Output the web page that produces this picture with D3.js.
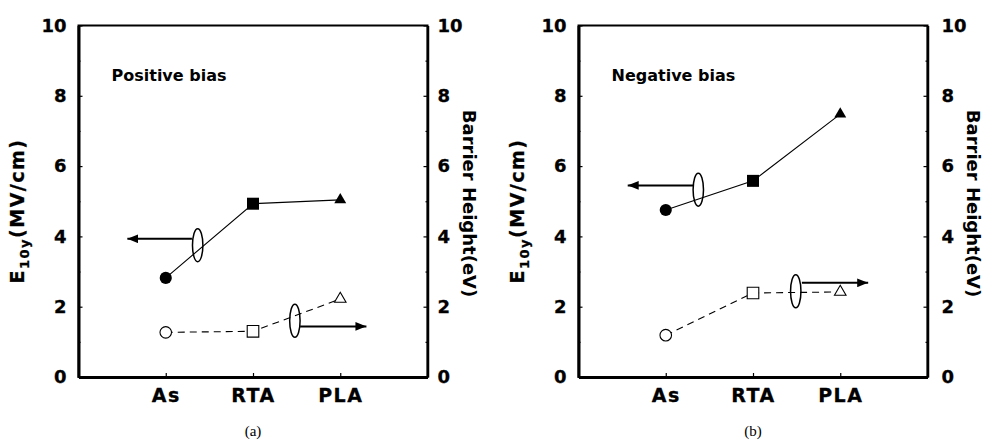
<!DOCTYPE html>
<html>
<head>
<meta charset="utf-8">
<script src="https://cdn.jsdelivr.net/npm/d3@7"></script>
<style>
  body { margin: 0; background: #fff; }
  text { font-family: 'DejaVu Sans', sans-serif; font-weight: bold; fill: #000;
         stroke: #000; stroke-width: 0.3px; }
  text.plain { stroke: none; }
</style>
</head>
<body>
<div id="chart"></div>
<script>
const categories = ['As', 'RTA', 'PLA']
const yTicks = [0, 2, 4, 6, 8, 10]
const minorTicks = [1, 3, 5, 7, 9]

// E10y (MV/cm) and barrier height (eV)
const posField = [2.82, 4.93, 5.04]
const posBarrier = [1.27, 1.30, 2.22]
const negField = [4.75, 5.58, 7.48]
const negBarrier = [1.19, 2.39, 2.42]

// guide ellipses [x index, value], arrows [from x, to x, value]
const posEllipses = [[1.366, 3.75], [2.48, 1.6]]
const posArrows = [[1.30, 0.56, 3.93], [2.54, 3.30, 1.44]]
const negEllipses = [[1.373, 5.33], [2.49, 2.44]]
const negArrows = [[1.316, 0.564, 5.45], [2.56, 3.32, 2.68]]

const panels = [
  {left: 78.5, title: 'Positive bias', tag: '(a)', field: posField, barrier: posBarrier,
   ellipses: posEllipses, arrows: posArrows, rGap: 35},
  {left: 578.5, title: 'Negative bias', tag: '(b)', field: negField, barrier: negBarrier,
   ellipses: negEllipses, arrows: negArrows, rGap: 39}
]

const W = 987, H = 442
const pw = 349, plotTop = 25.5, plotBottom = 377

const svg = d3.select('#chart').append('svg')
  .attr('width', W).attr('height', H)

svg.append('defs').append('marker')
  .attr('id', 'head')
  .attr('viewBox', '0 0 10 8')
  .attr('refX', 10).attr('refY', 4)
  .attr('markerWidth', 11).attr('markerHeight', 9)
  .attr('markerUnits', 'userSpaceOnUse')
  .attr('orient', 'auto')
  .append('path').attr('d', 'M0,0L10,4L0,8Z').attr('fill', '#000')

const shapes = [d3.symbolCircle, d3.symbolSquare, d3.symbolTriangle]
const sizes = [115, 144, 62]

panels.forEach(p => {
  const x = d3.scaleLinear().domain([0, 4]).range([p.left, p.left + pw])
  const y = d3.scaleLinear().domain([0, 10]).range([plotBottom, plotTop])
  const g = svg.append('g')

  g.append('rect')
    .attr('x', p.left).attr('y', plotTop)
    .attr('width', pw).attr('height', plotBottom - plotTop)
    .attr('fill', 'none').attr('stroke', '#000').attr('stroke-width', 2)

  // Axes
  const left = g.append('g')
    .attr('transform', `translate(${p.left},0)`)
    .call(d3.axisLeft(y).tickValues(yTicks).tickSizeInner(-4).tickSizeOuter(0).tickPadding(12))
  const right = g.append('g')
    .attr('transform', `translate(${p.left + pw},0)`)
    .call(d3.axisRight(y).tickValues(yTicks).tickSizeInner(-4).tickSizeOuter(0)
      .tickPadding(p.rGap - 25))
  g.append('g')
    .attr('transform', `translate(${p.left},0)`)
    .call(d3.axisLeft(y).tickValues(minorTicks).tickSize(-2).tickFormat(''))
    .select('.domain').remove()
  g.append('g')
    .attr('transform', `translate(${p.left + pw},0)`)
    .call(d3.axisRight(y).tickValues(minorTicks).tickSize(-2).tickFormat(''))
    .select('.domain').remove()
  const xa = g.append('g')
    .attr('transform', `translate(0,${plotBottom})`)
    .call(d3.axisBottom(x).tickValues([1, 2, 3]).tickFormat(i => categories[i - 1])
      .tickSizeInner(-4).tickSizeOuter(0).tickPadding(12))

  left.select('.domain').attr('stroke-width', 3)
  right.select('.domain').attr('stroke-width', 2.5)
  xa.select('.domain').attr('stroke-width', 3)
  g.selectAll('.tick line').attr('stroke-width', 1.2)
  left.selectAll('text').attr('font-size', 18).attr('font-family', null)
  right.selectAll('text').attr('font-size', 18).attr('font-family', null)
  xa.selectAll('text').attr('font-size', 19).attr('font-family', null)
    .attr('letter-spacing', '1.5px')

  // Lines
  const line = d3.line().x((d, i) => x(i + 1)).y(d => y(d))
  g.append('path').datum(p.field)
    .attr('d', line).attr('fill', 'none').attr('stroke', '#000').attr('stroke-width', 1.1)
  g.append('path').datum(p.barrier)
    .attr('d', line).attr('fill', 'none').attr('stroke', '#000').attr('stroke-width', 1.1)
    .attr('stroke-dasharray', '7,5')

  g.selectAll('.field').data(p.field).enter().append('path')
    .attr('transform', (d, i) => `translate(${x(i + 1)},${y(d)})`)
    .attr('d', (d, i) => d3.symbol(shapes[i], sizes[i])())
    .attr('fill', '#000')
  g.selectAll('.barrier').data(p.barrier).enter().append('path')
    .attr('transform', (d, i) => `translate(${x(i + 1)},${y(d)})`)
    .attr('d', (d, i) => d3.symbol(shapes[i], i == 2 ? 58 : sizes[i] - 10)())
    .attr('fill', '#fff').attr('stroke', '#000').attr('stroke-width', 1.1)

  // Guides
  g.selectAll('.ell').data(p.ellipses).enter().append('ellipse')
    .attr('cx', d => x(d[0])).attr('cy', d => y(d[1]))
    .attr('rx', 5.2).attr('ry', 16.5)
    .attr('fill', 'none').attr('stroke', '#000').attr('stroke-width', 1.5)
  g.selectAll('.arr').data(p.arrows).enter().append('line')
    .attr('x1', d => x(d[0])).attr('x2', d => x(d[1]))
    .attr('y1', d => y(d[2])).attr('y2', d => y(d[2]))
    .attr('stroke', '#000').attr('stroke-width', 2)
    .attr('marker-end', 'url(#head)')

  // Texts
  g.append('text')
    .attr('class', 'plain')
    .attr('x', p.left + 33).attr('y', 80.7)
    .attr('font-size', 16)
    .text(p.title)

  const yl = g.append('text')
    .attr('transform', `translate(${p.left - 55},211) rotate(-90)`)
    .attr('text-anchor', 'middle')
    .attr('font-size', 19).attr('letter-spacing', '1.5px')
  yl.append('tspan').text('E')
  yl.append('tspan').attr('font-size', 13).attr('dy', 5).text('10y')
  yl.append('tspan').attr('dy', -5).text('(MV/cm)')

  g.append('text')
    .attr('class', 'plain')
    .attr('transform', `translate(${p.left + pw + p.rGap},203.5) rotate(90)`)
    .attr('text-anchor', 'middle')
    .attr('font-size', 18)
    .text('Barrier Height(eV)')

  g.append('text')
    .attr('class', 'plain')
    .attr('x', p.left + pw / 2).attr('y', 436)
    .attr('text-anchor', 'middle')
    .style('font-family', "'Liberation Serif', serif").style('font-weight', 'normal')
    .attr('font-size', 15)
    .text(p.tag)
})
</script>
</body>
</html>
